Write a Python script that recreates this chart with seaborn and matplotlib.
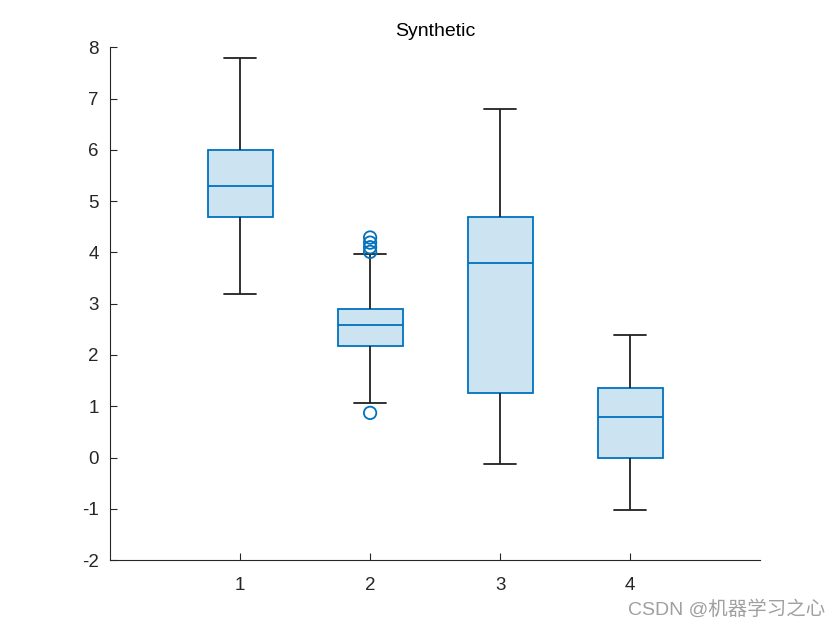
import numpy as np
import pandas as pd
import matplotlib
matplotlib.use("Agg")
import matplotlib.pyplot as plt
import seaborn as sns

# five-number summaries (whisker low, Q1, median, Q3, whisker high)
groups = [1, 2, 3, 4]
whisker_low = [3.19, 1.07, -0.12, -1.02]
q1 = [4.69, 2.17, 1.26, -0.01]
median = [5.29, 2.58, 3.79, 0.79]
q3 = [5.99, 2.89, 4.69, 1.35]
whisker_high = [7.79, 3.97, 6.79, 2.38]

# outliers (only group 2 has them)
outlier_group = [2, 2, 2, 2, 2]
outlier_value = [0.87, 4.01, 4.10, 4.19, 4.29]

blue = "#0072BD"
face = "#CCE3F2"
dark = "#212121"

rows = []
for i, g in enumerate(groups):
    for v in (whisker_low[i], q1[i], median[i], q3[i], whisker_high[i]):
        rows.append({"group": g, "value": v})
df = pd.DataFrame(rows)

sns.set_style("white")
plt.rcParams["font.family"] = ["Liberation Sans", "DejaVu Sans"]

fig = plt.figure(figsize=(8.4, 6.3), dpi=100)
ax = fig.add_axes([0.131, 0.111, 0.774, 0.814])

sns.boxplot(data=df, x="group", y="value", native_scale=True, width=0.5,
            whis=(0, 100), showfliers=False, linewidth=1.3, ax=ax,
            boxprops=dict(facecolor=face, edgecolor=blue),
            medianprops=dict(color=blue),
            whiskerprops=dict(color=dark),
            capprops=dict(color=dark))

sns.scatterplot(x=outlier_group, y=outlier_value, marker="o", s=80,
                facecolor="none", edgecolor=blue, linewidth=1.3, ax=ax, zorder=5)

ax.set_xlim(0, 5)
ax.set_ylim(-2, 8)
ax.set_xticks(groups)
ax.set_xticklabels([str(g) for g in groups])
ax.set_yticks(range(-2, 9))
ax.set_yticklabels([str(t) for t in range(-2, 9)])
ax.set_xlabel("")
ax.set_ylabel("")
for s in ["top", "right"]:
    ax.spines[s].set_visible(False)
for s in ["left", "bottom"]:
    ax.spines[s].set_color("#262626")
    ax.spines[s].set_linewidth(0.8)
ax.tick_params(left=True, bottom=True, direction="in", length=5, width=0.8,
               color="#262626", labelsize=13.5, labelcolor="#262626", pad=8)
ax.tick_params(axis="x", pad=12)
ax.set_title("Synthetic", fontsize=14, color="black", pad=8)

fig.text(0.982, 0.032, "CSDN @机器学习之心", ha="right", va="center",
         fontsize=14, color="#a0a0a0",
         family=["Liberation Sans", "Noto Sans CJK SC"])

fig.savefig("out.png", dpi=100)
